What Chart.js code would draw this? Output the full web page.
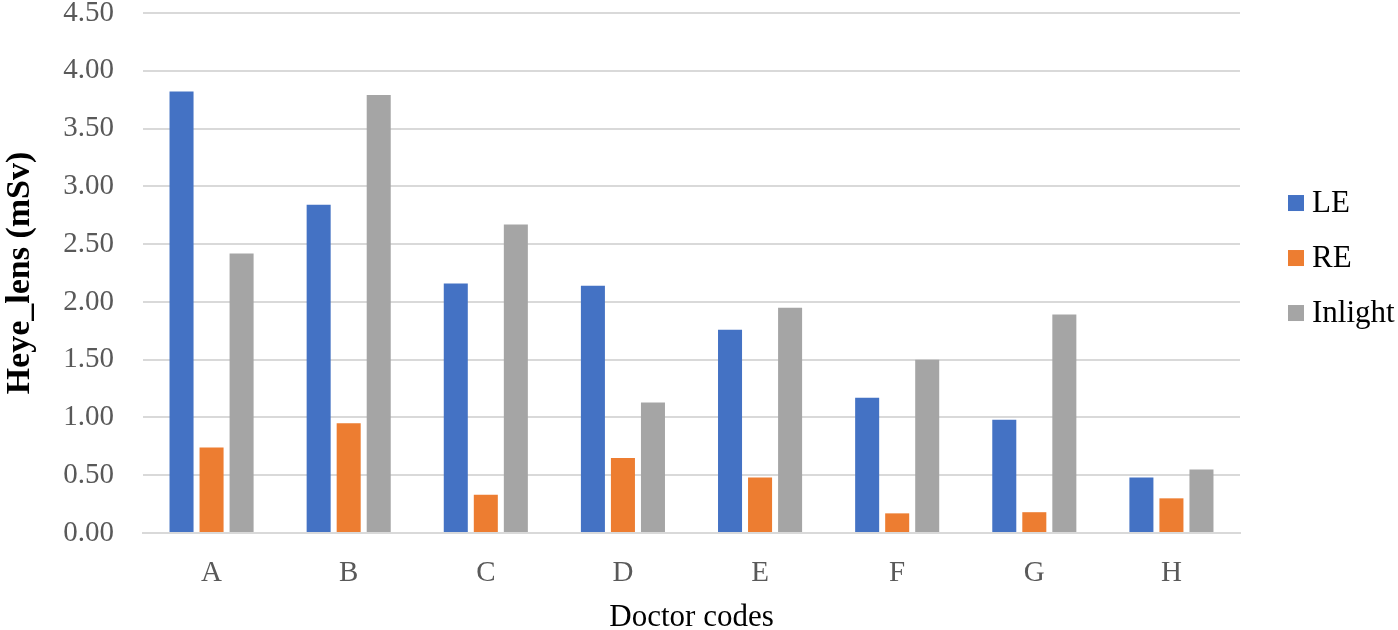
<!DOCTYPE html>
<html>
<head>
<meta charset="utf-8">
<script src="https://cdn.jsdelivr.net/npm/chart.js@4.4.0/dist/chart.umd.min.js"></script>
<style>
    body { margin: 0; background: #ffffff; }
    #wrap { width: 1398px; height: 630px; }
</style>
</head>
<body>
<div id="wrap"><canvas id="doseChart" width="1398" height="630"></canvas></div>
<script>
// Doctor codes and dose values (mSv)
const categories = ['A', 'B', 'C', 'D', 'E', 'F', 'G', 'H'];
const leValues = [3.82, 2.84, 2.16, 2.14, 1.76, 1.17, 0.98, 0.48];
const reValues = [0.74, 0.95, 0.33, 0.65, 0.48, 0.17, 0.18, 0.30];
const inlightValues = [2.42, 3.79, 2.67, 1.13, 1.95, 1.50, 1.89, 0.55];
const seriesNames = ['LE', 'RE', 'Inlight'];
const yMin = 0, yMax = 4.5, yStep = 0.5;

const colors = ['#4472C4', '#ED7D31', '#A5A5A5'];
const serif = "'Liberation Serif', 'Times New Roman', serif";

// Legend drawn by hand so it sits where Excel put it
const sideLegend = {
    id: 'sideLegend',
    afterDraw(chart) {
        const ctx = chart.ctx;
        const area = chart.chartArea;
        const midY = (area.top + area.bottom) / 2;
        ctx.save();
        ctx.font = '31px ' + serif;
        ctx.textBaseline = 'middle';
        chart.data.datasets.forEach((ds, i) => {
            const y = midY - 70 + i * 55;
            ctx.fillStyle = ds.backgroundColor;
            ctx.fillRect(area.right + 48, y - 8, 16, 16);
            ctx.fillStyle = '#000000';
            ctx.fillText(ds.label, area.right + 72, y + 1);
        });
        ctx.restore();
    }
};

const config = {
    type: 'bar',
    data: {
        labels: categories,
        datasets: [leValues, reValues, inlightValues].map((vals, i) => ({
            label: seriesNames[i],
            data: vals,
            backgroundColor: colors[i],
            borderWidth: 0,
            categoryPercentage: 0.657,
            barPercentage: 0.8
        }))
    },
    options: {
        responsive: false,
        animation: false,
        layout: { padding: { top: 13, right: 158, left: 0, bottom: 0 } },
        plugins: {
            legend: { display: false },
            tooltip: { enabled: false }
        },
        scales: {
            x: {
                grid: { display: false },
                border: { color: '#D9D9D9', width: 2 },
                ticks: {
                    color: '#595959',
                    font: { family: serif, size: 29 },
                    padding: 15
                },
                title: {
                    display: true,
                    text: 'Doctor codes',
                    color: '#000000',
                    font: { family: serif, size: 31, lineHeight: 0.8 },
                    padding: { top: 0, bottom: 0 }
                },
                afterFit(scale) { scale.height = 97; }
            },
            y: {
                min: yMin,
                max: yMax,
                // invisible tick marks give the label gap without pushing the top down
                grid: { color: '#D9D9D9', lineWidth: 2, drawTicks: true, tickLength: 29, tickColor: 'rgba(0,0,0,0)' },
                border: { display: false },
                ticks: {
                    stepSize: yStep,
                    color: '#595959',
                    font: { family: serif, size: 29, lineHeight: 0.9 },
                    padding: 0,
                    callback: v => Number(v).toFixed(2)
                },
                title: {
                    display: true,
                    text: 'Heye_lens (mSv)',
                    color: '#000000',
                    font: { family: serif, size: 34, weight: 'bold' },
                    padding: { top: 0, bottom: 0 }
                },
                afterFit(scale) { scale.width = 143; }
            }
        }
    },
    plugins: [sideLegend]
};

new Chart(document.getElementById('doseChart'), config);
</script>
</body>
</html>
